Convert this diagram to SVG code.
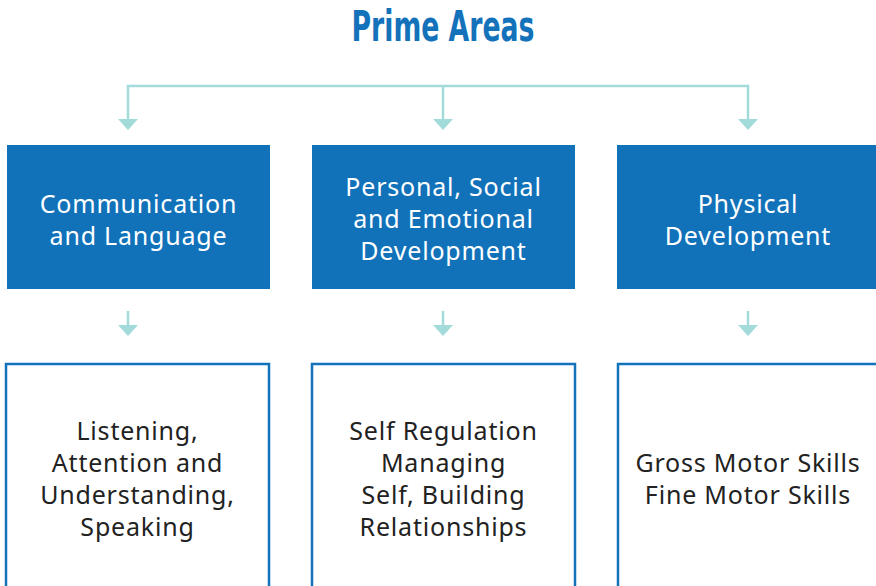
<svg xmlns="http://www.w3.org/2000/svg" width="876" height="586" viewBox="0 0 876 586">
<style>
.title{font-family:"Liberation Sans Narrow","DejaVu Sans Condensed","Liberation Sans",sans-serif;font-weight:bold;font-size:42px;fill:#1372BA}
.head{fill:#1172BA}
.sub{fill:#ffffff;stroke:#1372BA;stroke-width:2.5}
.ht{font-family:"Noto Sans","DejaVu Sans",sans-serif;font-size:25px;letter-spacing:0.8px;fill:#ffffff;text-anchor:middle}
.st{font-family:"Noto Sans","DejaVu Sans",sans-serif;font-size:25px;letter-spacing:0.8px;fill:#222222;text-anchor:middle}
.con{fill:none;stroke:#A2DBDA;stroke-width:2.5}
.ah{fill:#A2DBDA}
</style>
<rect width="876" height="586" fill="#ffffff"/>
<text class="title" x="443" y="41" text-anchor="middle" textLength="183" lengthAdjust="spacingAndGlyphs">Prime Areas</text>
<g id="connectors">
<path class="con" d="M128 120 V86 H748 V120 M443 86 V120"/>
<polygon class="ah" points="118,119 138,119 128,130"/>
<polygon class="ah" points="433,119 453,119 443,130"/>
<polygon class="ah" points="738,119 758,119 748,130"/>
<path class="con" d="M128 311 V326 M443 311 V326 M748 311 V326"/>
<polygon class="ah" points="118,325 138,325 128,336"/>
<polygon class="ah" points="433,325 453,325 443,336"/>
<polygon class="ah" points="738,325 758,325 748,336"/>
</g>
<g id="communication">
<rect class="head" x="7" y="145" width="263" height="144"/>
<text class="ht" x="138.5" y="213">Communication</text>
<text class="ht" x="138.5" y="245">and Language</text>
</g>
<g id="psed">
<rect class="head" x="312" y="145" width="263" height="144"/>
<text class="ht" x="443.5" y="196">Personal, Social</text>
<text class="ht" x="443.5" y="228">and Emotional</text>
<text class="ht" x="443.5" y="260">Development</text>
</g>
<g id="physical">
<rect class="head" x="617" y="145" width="265" height="144"/>
<text class="ht" x="748" y="213">Physical</text>
<text class="ht" x="748" y="245">Development</text>
</g>
<g id="listening">
<rect class="sub" x="6" y="364" width="263" height="240"/>
<text class="st" x="137.5" y="440">Listening,</text>
<text class="st" x="137.5" y="472">Attention and</text>
<text class="st" x="137.5" y="504">Understanding,</text>
<text class="st" x="137.5" y="536">Speaking</text>
</g>
<g id="selfreg">
<rect class="sub" x="312" y="364" width="263" height="240"/>
<text class="st" x="443.5" y="440">Self Regulation</text>
<text class="st" x="443.5" y="472">Managing</text>
<text class="st" x="443.5" y="504">Self, Building</text>
<text class="st" x="443.5" y="536">Relationships</text>
</g>
<g id="motor">
<rect class="sub" x="618" y="364" width="270" height="240"/>
<text class="st" x="748" y="472">Gross Motor Skills</text>
<text class="st" x="748" y="504">Fine Motor Skills</text>
</g>
</svg>
